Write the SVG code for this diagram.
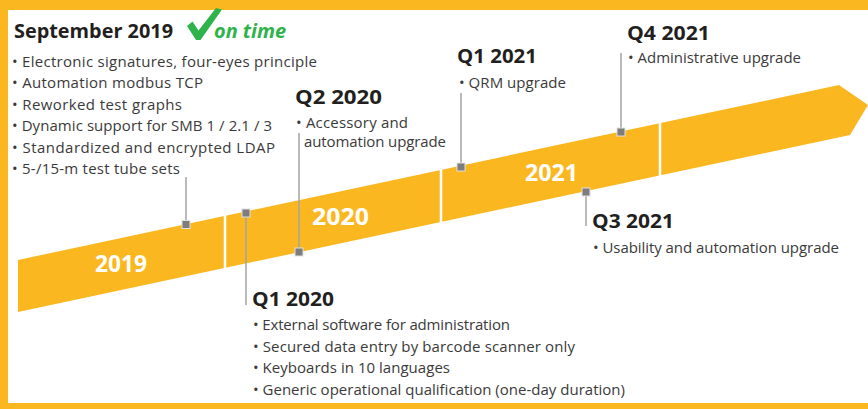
<svg xmlns="http://www.w3.org/2000/svg" width="868" height="409" viewBox="0 0 868 409">
<style>
text{font-family:"Open Sans",Lato,"Liberation Sans",sans-serif}
.h{font-weight:700;font-size:19px;fill:#231f20}
.b{font-size:15px;fill:#3a3a3a}
.y{font-weight:700;font-size:23px;fill:#fff}
.ln{stroke:#a3a3a3;stroke-width:1.5;fill:none}
.sq{fill:#7d7d7d;stroke:#e0e0e0;stroke-width:1}
.sep{stroke:#fff;stroke-width:2.5}
</style>
<rect width="868" height="409" fill="#fff"/>
<g id="frame" fill="#fbb71f">
<rect x="0" y="0" width="868" height="10"/>
<rect x="0" y="0" width="8" height="409"/>
<rect x="0" y="403" width="868" height="6"/>
</g>
<g id="band">
<polygon points="18,260 839,85 868,105 850,135 18,312" fill="#fbb71f"/>
<line class="sep" x1="225" y1="214" x2="225" y2="270"/>
<line class="sep" x1="441" y1="168" x2="441" y2="224"/>
<line class="sep" x1="660" y1="121" x2="660" y2="177"/>
<text class="y" x="95" y="272" textLength="52" lengthAdjust="spacingAndGlyphs">2019</text>
<text class="y" x="312" y="225" textLength="57" lengthAdjust="spacingAndGlyphs">2020</text>
<text class="y" x="525" y="181" textLength="53" lengthAdjust="spacingAndGlyphs">2021</text>
</g>
<g id="connectors">
<line class="ln" x1="186" y1="177" x2="186" y2="224"/>
<line class="ln" x1="246" y1="213" x2="246" y2="305"/>
<line class="ln" x1="299" y1="133" x2="299" y2="252"/>
<line class="ln" x1="461" y1="93" x2="461" y2="167"/>
<line class="ln" x1="621" y1="53" x2="621" y2="132"/>
<line class="ln" x1="586" y1="192" x2="586" y2="226"/>
<rect class="sq" x="182" y="220.5" width="8" height="8"/>
<rect class="sq" x="242" y="209" width="8" height="8"/>
<rect class="sq" x="295" y="248" width="8" height="8"/>
<rect class="sq" x="457" y="163" width="8" height="8"/>
<rect class="sq" x="617" y="128" width="8" height="8"/>
<rect class="sq" x="582" y="188" width="8" height="8"/>
</g>
<g id="sep2019">
<text class="h" x="14" y="38" textLength="159" lengthAdjust="spacingAndGlyphs">September 2019</text>
<path d="M187,26 L192.5,21.5 L198.5,30.5 L216,8 L222,9.5 L200.5,40 L196,40 Z" fill="#2db34a"/>
<text x="214" y="38" font-weight="700" font-style="italic" font-size="19" fill="#2db34a" textLength="72" lengthAdjust="spacingAndGlyphs">on time</text>
<text class="b" x="12" y="67" textLength="305">• Electronic signatures, four-eyes principle</text>
<text class="b" x="12" y="88" textLength="191">• Automation modbus TCP</text>
<text class="b" x="12" y="110" textLength="170">• Reworked test graphs</text>
<text class="b" x="12" y="131" textLength="260">• Dynamic support for SMB 1 / 2.1 / 3</text>
<text class="b" x="12" y="153" textLength="263">• Standardized and encrypted LDAP</text>
<text class="b" x="12" y="174" textLength="168">• 5-/15-m test tube sets</text>
</g>
<g id="q1-2020">
<text class="h" x="252" y="306" textLength="82" lengthAdjust="spacingAndGlyphs">Q1 2020</text>
<text class="b" x="253" y="330" textLength="257">• External software for administration</text>
<text class="b" x="253" y="352" textLength="322">• Secured data entry by barcode scanner only</text>
<text class="b" x="253" y="373" textLength="197">• Keyboards in 10 languages</text>
<text class="b" x="253" y="395" textLength="372">• Generic operational qualification (one-day duration)</text>
</g>
<g id="q2-2020">
<text class="h" x="295" y="104" textLength="87" lengthAdjust="spacingAndGlyphs">Q2 2020</text>
<text class="b" x="296" y="128" textLength="112">• Accessory and</text>
<text class="b" x="304" y="147" textLength="142">automation upgrade</text>
</g>
<g id="q1-2021">
<text class="h" x="457" y="63" textLength="80" lengthAdjust="spacingAndGlyphs">Q1 2021</text>
<text class="b" x="459" y="88" textLength="107">• QRM upgrade</text>
</g>
<g id="q3-2021">
<text class="h" x="592" y="228" textLength="82" lengthAdjust="spacingAndGlyphs">Q3 2021</text>
<text class="b" x="593" y="253" textLength="246">• Usability and automation upgrade</text>
</g>
<g id="q4-2021">
<text class="h" x="627" y="40" textLength="83" lengthAdjust="spacingAndGlyphs">Q4 2021</text>
<text class="b" x="628" y="63" textLength="173">• Administrative upgrade</text>
</g>
</svg>
